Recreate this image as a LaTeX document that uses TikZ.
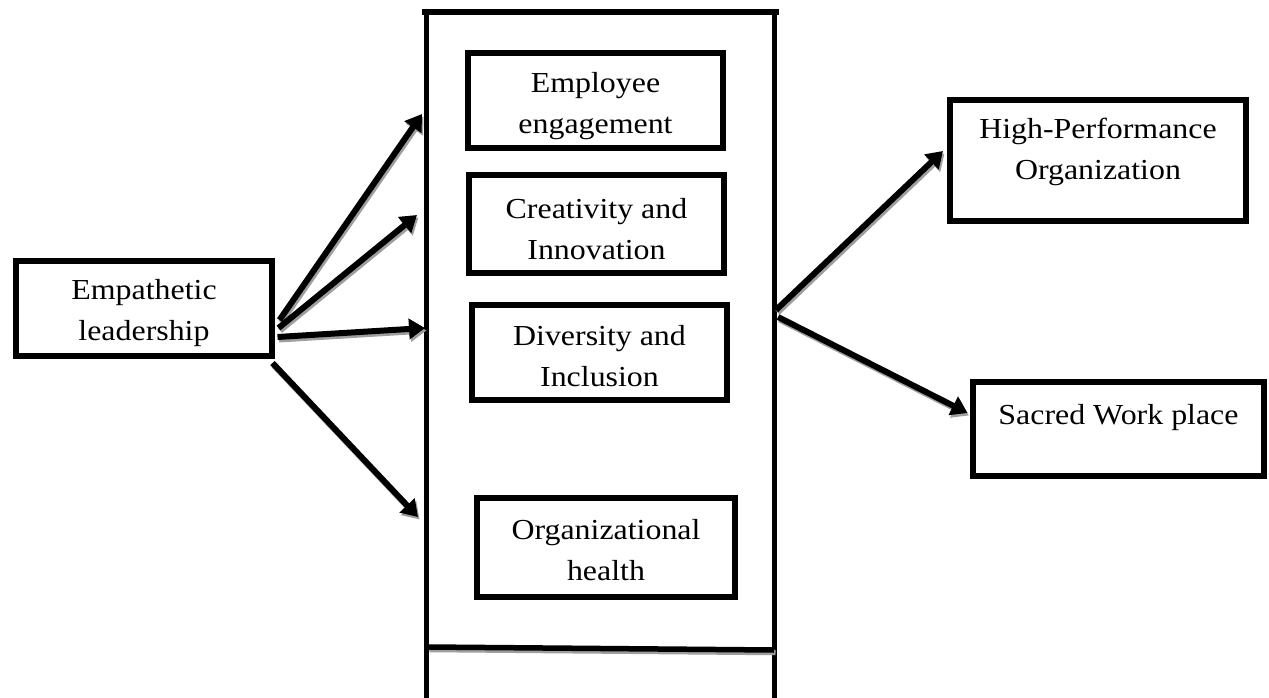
\documentclass[tikz,border=0pt]{standalone}
\usepackage{fontspec}
\setmainfont{Liberation Serif}[FakeStretch=1.1]
\usetikzlibrary{arrows.meta,calc}
\begin{document}
\begin{tikzpicture}[x=1pt,y=-1pt,
  box/.style={draw,line width=6pt,rectangle,inner sep=0pt},
  lbl/.style={align=center,inner sep=0pt,font=\fontsize{29}{41}\selectfont},
  link/.style={line width=6pt,-{Triangle[length=16pt,width=20pt]}},
  shade/.style={draw=black!38,transform canvas={shift={(1.5pt,-2.5pt)}}},
  wall/.style={line width=5.5pt}]
\useasboundingbox (0,0) rectangle (1269,698);

% central column: open frame with a cross bar near the bottom
\coordinate (ctl) at (422,12);  \coordinate (ctr) at (779,12);
\coordinate (clt) at (426.5,14);  \coordinate (clb) at (426.5,698);
\coordinate (crt) at (774.5,14);  \coordinate (crb) at (774.5,698);
\coordinate (cbl) at (428,647); \coordinate (cbr) at (774,650);
\draw[wall,line width=6pt] (ctl) -- (ctr);
\draw[wall] (clt) -- (clb);
\draw[wall] (crt) -- (crb);
\draw[wall,shade] (cbl) -- (cbr);
\draw[wall] (cbl) -- (cbr);

% boxes
\node[box,minimum width=256pt,minimum height=95pt] (lead) at (144,308.5) {};
\node[box,minimum width=255pt,minimum height=95pt] (eng)  at (595.5,100.5) {};
\node[box,minimum width=255pt,minimum height=98pt] (cre)  at (596.5,224) {};
\node[box,minimum width=255pt,minimum height=95pt] (div)  at (599.5,352.5) {};
\node[box,minimum width=258pt,minimum height=99pt] (org) at (606,547.5) {};
\node[box,minimum width=296pt,minimum height=121pt] (hpo) at (1098,160.5) {};
\node[box,minimum width=291pt,minimum height=94pt] (swp)  at (1118.5,429) {};

% box texts
\node[lbl,yshift=-5pt] (leadt) at (lead.center) {Empathetic\\leadership};
\node[lbl,yshift=-5.5pt] (engt) at (eng.center) {Employee\\engagement};
\node[lbl,yshift=-5pt] (cret) at (cre.center) {Creativity and\\Innovation};
\node[lbl,yshift=-4pt] (divt) at (div.center) {Diversity and\\Inclusion};
\node[lbl,yshift=-3pt] (orgt) at (org.center) {Organizational\\health};
\node[lbl,yshift=9pt] (hpot) at (hpo.center) {High-Performance\\Organization};
\node[lbl,yshift=11.5pt] (swpt) at (swp.center) {Sacred Work place};

% arrow ends on the column
\coordinate (e1) at (422,114);
\coordinate (e2) at (417,215);
\coordinate (e3) at (425,328);
\coordinate (e4) at (418,517);
\coordinate (r1) at (776,310);
\coordinate (r2) at (778,317);

% arrows from the leadership box
\foreach \dx/\dy/\tgt in {4.5/11.5/e1, 3.5/19.5/e2, 2.5/28.5/e3, -2.5/54.5/e4}{
  \draw[link,shade] ($(lead.east)+(\dx,\dy)$) -- (\tgt);
  \draw[link] ($(lead.east)+(\dx,\dy)$) -- (\tgt);
}

% arrows to the outcomes
\draw[link,shade] (r1) -- ($(hpo.west)+(-4,-9.5)$);
\draw[link] (r1) -- ($(hpo.west)+(-4,-9.5)$);
\draw[link,shade] (r2) -- ($(swp.west)+(-2.5,-16)$);
\draw[link] (r2) -- ($(swp.west)+(-2.5,-16)$);
\end{tikzpicture}
\end{document}
